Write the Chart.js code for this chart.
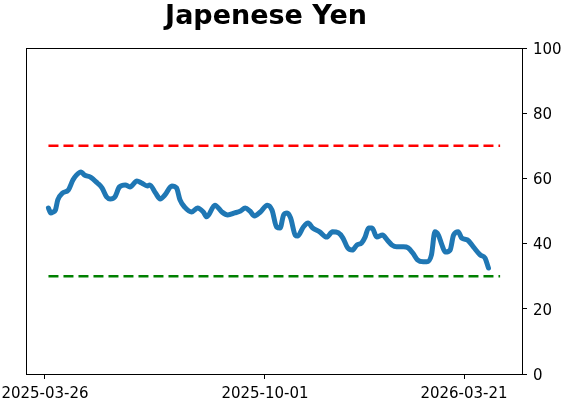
<!DOCTYPE html>
<html>
<head>
<meta charset="utf-8">
<script src="https://cdn.jsdelivr.net/npm/chart.js@4/dist/chart.umd.min.js"></script>
<style>
  body { margin: 0; background: #fff; }
  #wrap { width: 562px; height: 402px; position: relative; }
</style>
</head>
<body>
<div id="wrap"><canvas id="yenChart"></canvas></div>
<script>
// Data
const startDate = '2025-03-26';
const dates = [
    '2025-03-29', '2025-03-31', '2025-04-02', '2025-04-04', '2025-04-06', '2025-04-10', '2025-04-15', '2025-04-19',
    '2025-04-22', '2025-04-26', '2025-04-29', '2025-05-04', '2025-05-10', '2025-05-14', '2025-05-18', '2025-05-21',
    '2025-05-25', '2025-05-29', '2025-06-03', '2025-06-07', '2025-06-13', '2025-06-17', '2025-06-22', '2025-06-24',
    '2025-06-29', '2025-07-03', '2025-07-07', '2025-07-13', '2025-07-17', '2025-07-20', '2025-07-24', '2025-07-30',
    '2025-08-04', '2025-08-09', '2025-08-12', '2025-08-19', '2025-08-25', '2025-08-30', '2025-09-05', '2025-09-10',
    '2025-09-14', '2025-09-18', '2025-09-22', '2025-09-27', '2025-10-03', '2025-10-07', '2025-10-11', '2025-10-14',
    '2025-10-17', '2025-10-20', '2025-10-23', '2025-10-27', '2025-10-29', '2025-11-03', '2025-11-07', '2025-11-11',
    '2025-11-17', '2025-11-23', '2025-11-28', '2025-12-03', '2025-12-07', '2025-12-11', '2025-12-15', '2025-12-19',
    '2025-12-23', '2025-12-26', '2025-12-29', '2026-01-01', '2026-01-05', '2026-01-10', '2026-01-14', '2026-01-18',
    '2026-01-22', '2026-01-28', '2026-02-01', '2026-02-05', '2026-02-09', '2026-02-14', '2026-02-17', '2026-02-21',
    '2026-02-24', '2026-02-27', '2026-03-02', '2026-03-05', '2026-03-09', '2026-03-12', '2026-03-16', '2026-03-19',
    '2026-03-24', '2026-03-29', '2026-04-04', '2026-04-08', '2026-04-11'
];
const yenValues = [
    50.9, 49.4, 49.7, 50.3, 53.4, 55.5, 56.4, 59.5,
    61.0, 62.0, 61.0, 60.4, 58.6, 57.1, 54.3, 53.7,
    54.3, 57.4, 58.0, 57.4, 59.2, 58.6, 57.7, 58.0,
    55.5, 53.7, 54.9, 57.7, 57.1, 53.4, 51.2, 49.7,
    50.9, 49.7, 48.2, 51.8, 49.7, 48.8, 49.4, 50.0,
    50.9, 50.0, 48.5, 49.7, 51.8, 50.3, 45.1, 44.8,
    48.8, 49.4, 47.9, 42.6, 42.3, 45.1, 46.3, 44.8,
    43.6, 42.0, 43.6, 43.3, 41.7, 38.7, 38.0, 39.6,
    40.2, 42.0, 44.8, 44.8, 42.0, 42.6, 41.1, 39.6,
    39.0, 39.0, 38.7, 37.1, 35.0, 34.4, 34.4, 36.5,
    43.6, 42.6, 39.6, 37.4, 38.0, 42.6, 43.6, 41.7,
    41.1, 39.0, 36.5, 35.6, 32.5
];
const upperLevel = 70;
const lowerLevel = 30;
const levelDates = ['2025-03-29', '2026-04-21'];
const tickDates = ['2025-03-26', '2025-10-01', '2026-03-21'];
const yTicks = [0, 20, 40, 60, 80, 100];

// days since startDate
function dayOf(s) {
    const p = s.split('-').map(Number);
    const q = startDate.split('-').map(Number);
    return (Date.UTC(p[0], p[1] - 1, p[2]) - Date.UTC(q[0], q[1] - 1, q[2])) / 86400000;
}

const yenPoints = dates.map((d, i) => ({ x: dayOf(d), y: yenValues[i] }));
const upperPoints = levelDates.map(d => ({ x: dayOf(d), y: upperLevel }));
const lowerPoints = levelDates.map(d => ({ x: dayOf(d), y: lowerLevel }));

const fontTick = { family: '"DejaVu Sans", sans-serif', size: 15 };

// title + frame round the plot area
const framePlugin = {
    id: 'frame',
    afterDraw(chart) {
        const { ctx, chartArea: a } = chart;
        ctx.save();
        ctx.strokeStyle = '#000';
        ctx.lineWidth = 1;
        ctx.strokeRect(Math.round(a.left) + 0.5, Math.round(a.top) + 0.5,
            Math.round(a.right - a.left), Math.round(a.bottom - a.top));
        ctx.fillStyle = '#000';
        ctx.font = 'bold 27px "DejaVu Sans", sans-serif';
        ctx.textAlign = 'center';
        ctx.textBaseline = 'alphabetic';
        ctx.fillText('Japenese Yen', 266, 24);
        ctx.restore();
    }
};

new Chart('yenChart', {
    type: 'line',
    data: {
        datasets: [
            {
                data: upperPoints,
                borderColor: '#ff0000',
                borderWidth: 2.5,
                borderDash: [10, 5],
                pointRadius: 0
            },
            {
                data: lowerPoints,
                borderColor: '#008000',
                borderWidth: 2.5,
                borderDash: [10, 5],
                pointRadius: 0
            },
            {
                data: yenPoints,
                borderColor: '#1f77b4',
                borderWidth: 5,
                pointRadius: 0,
                cubicInterpolationMode: 'monotone',
                borderCapStyle: 'round',
                borderJoinStyle: 'round'
            }
        ]
    },
    options: {
        responsive: true,
        maintainAspectRatio: false,
        animation: false,
        layout: { padding: { left: 26, top: 48, right: 0, bottom: 0 } },
        plugins: {
            legend: { display: false },
            tooltip: { enabled: false },
            title: { display: false }
        },
        scales: {
            x: {
                type: 'linear',
                min: -16.3,
                max: 409.8,
                border: { display: false },
                grid: { drawOnChartArea: false, drawTicks: true, tickLength: 5, color: '#000', lineWidth: 1 },
                afterBuildTicks(scale) {
                    scale.ticks = tickDates.map(d => ({ value: dayOf(d) }));
                },
                afterFit(scale) {
                    scale.height = 28;
                    scale.paddingLeft = 0;
                    scale.paddingRight = 0;
                },
                ticks: {
                    autoSkip: false,
                    maxRotation: 0,
                    padding: 6,
                    color: '#000',
                    font: fontTick,
                    callback: (v) => tickDates.find(d => dayOf(d) === v) || ''
                }
            },
            y: {
                position: 'right',
                min: 0,
                max: 100,
                border: { display: false },
                grid: { drawOnChartArea: false, drawTicks: true, tickLength: 5, color: '#000', lineWidth: 1 },
                afterBuildTicks(scale) {
                    scale.ticks = yTicks.map(v => ({ value: v }));
                },
                afterFit(scale) {
                    scale.width = 40;
                    scale.paddingTop = 0;
                    scale.paddingBottom = 0;
                },
                ticks: {
                    padding: 6,
                    labelOffset: 2,
                    color: '#000',
                    font: fontTick
                }
            }
        }
    },
    plugins: [framePlugin]
});
</script>
</body>
</html>
